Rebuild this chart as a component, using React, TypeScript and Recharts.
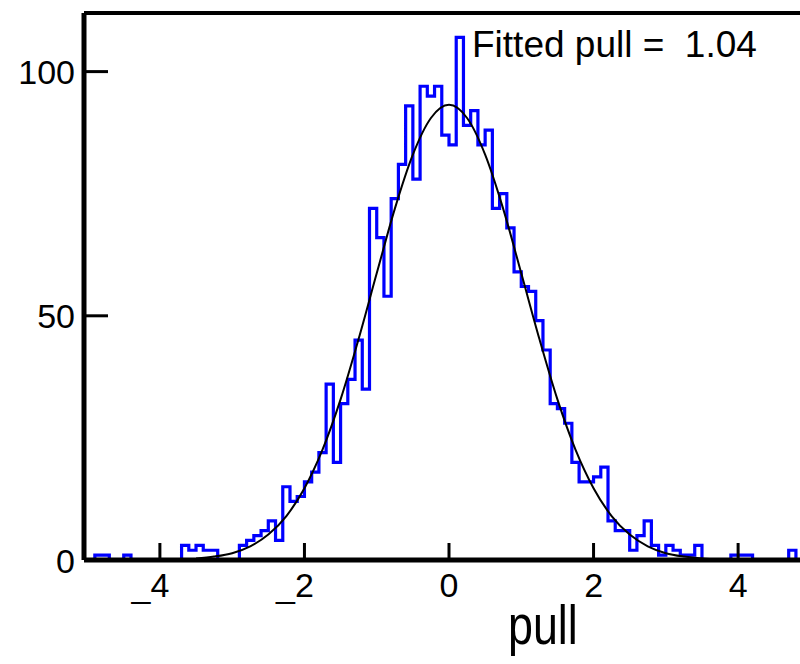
import { ComposedChart, Line, XAxis, YAxis, ReferenceLine } from "recharts";

// histogram of pulls: 100 bins of width 0.1 from -5 to 5 (counts)
const binStart = -5;
const binWidth = 0.1;
const counts = [
  0, 1, 1, 0, 0, 1, 0, 0, 0, 0,
  0, 0, 0, 3, 2, 3, 2, 2, 0, 0,
  0, 3, 4, 5, 6, 8, 4, 15, 12, 13,
  16, 18, 22, 36, 20, 32, 37, 45, 35, 72,
  66, 54, 74, 81, 93, 78, 97, 95, 97, 87,
  85, 107, 89, 92, 85, 88, 72, 75, 68, 59,
  56, 55, 49, 43, 32, 31, 28, 20, 16, 16,
  17, 19, 8, 6, 6, 2, 5, 8, 3, 1,
  3, 2, 1, 1, 3, 0, 0, 0, 0, 1,
  1, 1, 0, 0, 0, 0, 0, 2, 0, 0,
];

// gaussian fit curve
const fitX = [-3.5, -3.25, -3, -2.75, -2.5, -2.25, -2, -1.75, -1.5, -1.25, -1, -0.75, -0.5, -0.25, 0,
  0.25, 0.5, 0.75, 1, 1.25, 1.5, 1.75, 2, 2.25, 2.5, 2.75, 3, 3.25, 3.5, 3.75];
const fitY = [0.3, 0.7, 1.4, 2.8, 5.2, 9.0, 14.7, 22.6, 32.9, 45.3, 58.7, 71.9, 83.0, 90.5, 93.2,
  90.5, 83.0, 71.9, 58.7, 45.3, 32.9, 22.6, 14.7, 9.0, 5.2, 2.8, 1.4, 0.7, 0.3, 0.15];

const xTicks = [-4, -2, 0, 2, 4];
const yTicks = [0, 50, 100];

const FONT = "'Liberation Sans', Arial, sans-serif";

type Row = { x: number; count?: number; fit?: number };

function buildData(): Row[] {
  const rows = new Map<number, Row>();
  const get = (x: number) => {
    const key = Math.round(x * 100);
    if (!rows.has(key)) rows.set(key, { x: key / 100 });
    return rows.get(key)!;
  };
  counts.forEach((c, i) => {
    get(binStart + i * binWidth).count = c;
  });
  // closing edge of the last bin
  get(binStart + counts.length * binWidth).count = counts[counts.length - 1];
  fitX.forEach((x, i) => {
    get(x).fit = fitY[i];
  });
  return Array.from(rows.values()).sort((a, b) => a.x - b.x);
}

const data = buildData();

function XTick(props: any) {
  const { x, y, payload } = props;
  const v = payload.value;
  const label = v < 0 ? `_${Math.abs(v)}` : `${v}`;
  return (
    <g>
      <line x1={x} x2={x} y1={y} y2={y - 17} stroke="#000" strokeWidth={3} />
      <text x={x + 9.5} y={y + 37} textAnchor="end" fontSize={34} fontFamily={FONT} fill="#000">
        {label}
      </text>
    </g>
  );
}

function YTick(props: any) {
  const { x, y, payload } = props;
  return (
    <g>
      <line x1={x + 9} x2={x + 33} y1={y} y2={y} stroke="#000" strokeWidth={3} />
      <text x={x} y={y + 12.5} textAnchor="end" fontSize={34} fontFamily={FONT} fill="#000">
        {payload.value}
      </text>
    </g>
  );
}

export default function App() {
  return (
    <div
      style={{
        position: "fixed",
        left: 0,
        top: 0,
        width: 800,
        height: 664,
        overflow: "hidden",
        background: "#fff",
      }}
    >
      <ComposedChart width={830} height={664} data={data} margin={{ top: 13, right: 16, bottom: 0, left: 0 }}>
        <XAxis
          type="number"
          dataKey="x"
          domain={[-5.05, 5.05]}
          ticks={xTicks}
          height={104}
          tickSize={0}
          tickMargin={0}
          tick={<XTick />}
          axisLine={{ stroke: "#000", strokeWidth: 5 }}
        />
        <YAxis
          type="number"
          domain={[0, 112]}
          ticks={yTicks}
          width={84}
          tickSize={0}
          tickMargin={9}
          tick={<YTick />}
          axisLine={{ stroke: "#000", strokeWidth: 5 }}
        />
        <ReferenceLine y={112} stroke="#000" strokeWidth={4} />
        <Line
          dataKey="count"
          type="stepAfter"
          stroke="#0000ff"
          strokeWidth={3.2}
          dot={false}
          connectNulls
          isAnimationActive={false}
        />
        <Line
          dataKey="fit"
          type="monotone"
          stroke="#000"
          strokeWidth={2}
          dot={false}
          connectNulls
          isAnimationActive={false}
        />
      </ComposedChart>
      <svg
        width={800}
        height={664}
        style={{ position: "absolute", left: 0, top: 0, pointerEvents: "none" }}
      >
        <text x={472} y={57} fontSize={37} fontFamily={FONT} fill="#000" xmlSpace="preserve">
          Fitted pull =  1.04
        </text>
        <text
          transform="translate(508 644) scale(0.8 1)"
          fontSize={56}
          fontFamily={FONT}
          fill="#000"
        >
          pull
        </text>
      </svg>
    </div>
  );
}
